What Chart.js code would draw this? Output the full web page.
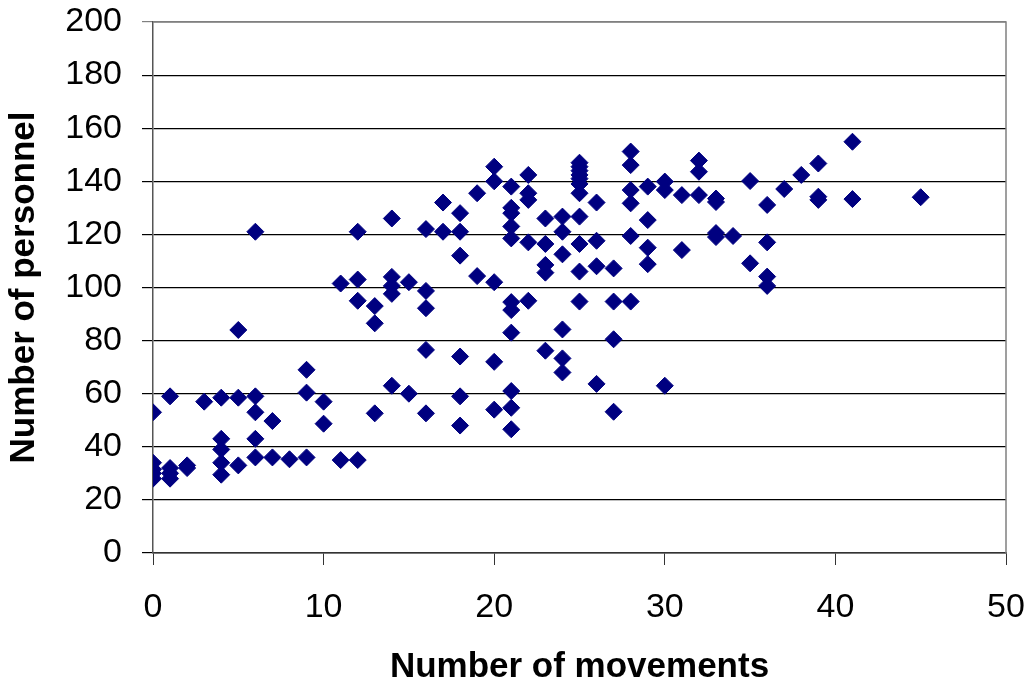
<!DOCTYPE html>
<html>
<head>
<meta charset="utf-8">
<script src="https://cdn.jsdelivr.net/npm/chart.js@4/dist/chart.umd.min.js"></script>
<style>
  html, body { margin: 0; padding: 0; background: #ffffff; }
  #wrap { width: 1031px; height: 686px; }
</style>
</head>
<body>
<div id="wrap"><canvas id="chart" width="1031" height="686"></canvas></div>
<script>
// Observations: number of movements (x) and number of personnel (y), one entry per point.
const movements = [
  0, 0, 0, 0, 0,
  1, 1, 1, 1,
  2, 2,
  3,
  4, 4, 4, 4, 4,
  5, 5, 5,
  6, 6, 6, 6, 6,
  7, 7,
  8,
  9, 9, 9,
  10, 10,
  11, 11,
  12, 12, 12, 12,
  13, 13, 13,
  14, 14, 14, 14, 14,
  15, 15,
  16, 16, 16, 16, 16,
  17, 17,
  18, 18, 18, 18, 18, 18,
  19, 19,
  20, 20, 20, 20, 20,
  21, 21, 21, 21, 21, 21, 21, 21, 21, 21, 21,
  22, 22, 22, 22, 22,
  23, 23, 23, 23, 23,
  24, 24, 24, 24, 24, 24,
  25, 25, 25, 25, 25, 25, 25, 25, 25, 25, 25,
  26, 26, 26, 26,
  27, 27, 27, 27,
  28, 28, 28, 28, 28, 28,
  29, 29, 29, 29,
  30, 30, 30,
  31, 31,
  32, 32, 32,
  33, 33, 33, 33,
  34,
  35, 35,
  36, 36, 36, 36,
  37,
  38,
  39, 39, 39,
  41, 41,
  45
];

const personnel = [
  53, 34, 31.5, 30, 28,
  59, 32, 30, 28,
  33, 32,
  57,
  58.5, 43, 39, 34, 29.5,
  84, 58.5, 33,
  121, 59, 53, 43, 36,
  49.7, 36,
  35.3,
  69, 60.4, 36,
  57, 48.7,
  101.5, 35,
  121, 103, 95, 35,
  93, 86.5, 52.6,
  126, 104, 100.6, 97.6, 63,
  102, 60,
  122, 98.7, 92.2, 76.5, 52.6,
  132, 121,
  128, 121, 112, 74, 59, 48,
  135.5, 104.3,
  145.5, 140, 102, 72, 54,
  138, 130, 128, 123, 118.5, 94.5, 91.5, 83, 61, 54.7, 46.6,
  142.4, 135.5, 133, 117, 95,
  126, 116.4, 108.5, 105.6, 76.2,
  126.7, 121, 112.5, 84.2, 73.3, 68,
  147, 145.5, 144, 142.4, 141, 139, 135.5, 126.7, 116.4, 106, 94.7,
  132, 117.6, 108, 63.7,
  107.2, 94.7, 80.5, 53.2,
  151.2, 146.1, 136.7, 131.7, 119.4, 94.7,
  138, 125.4, 115, 108.8,
  139.9, 136.7, 63,
  134.8, 114.1,
  147.8, 143.6, 134.8,
  133.5, 132.2, 120.5, 119,
  119.4,
  140.1, 109.1,
  131.1, 117, 104.1, 100.6,
  137.1,
  142.4,
  146.7, 134.2, 133,
  154.9, 133.3,
  134
];

// Axis ranges and tick steps
const xRange = { min: 0, max: 50, step: 10 };
const yRange = { min: 0, max: 200, step: 20 };

const xTitle = 'Number of movements';
const yTitle = 'Number of personnel';

const points = movements.map((m, i) => ({ x: m, y: personnel[i] }));

const FONT = "'Liberation Sans', Arial, sans-serif";

// Grey frame along the top and right of the plot area
const plotFrame = {
  id: 'plotFrame',
  afterDatasetsDraw(chart) {
    const { ctx, chartArea: a } = chart;
    ctx.save();
    ctx.strokeStyle = '#808080';
    ctx.lineWidth = 1.5;
    ctx.beginPath();
    ctx.moveTo(a.left, a.top);
    ctx.lineTo(a.right, a.top);
    ctx.lineTo(a.right, a.bottom);
    ctx.stroke();
    ctx.restore();
  }
};

// Fixed axis band sizes; edge-label overflow is covered by the layout padding
function fixBand(scale, size) {
  if (scale.isHorizontal()) scale.height = size; else scale.width = size;
  scale.paddingLeft = 0;
  scale.paddingRight = 0;
  scale.paddingTop = 0;
  scale.paddingBottom = 0;
}

new Chart(document.getElementById('chart'), {
  type: 'scatter',
  data: {
    datasets: [{
      data: points,
      pointStyle: 'rectRot',
      pointRadius: 8.5,
      pointHoverRadius: 8.5,
      backgroundColor: '#000080',
      borderColor: '#000080',
      borderWidth: 1
    }]
  },
  options: {
    responsive: false,
    animation: false,
    devicePixelRatio: 1,
    layout: { padding: { top: 22, right: 25, left: 0, bottom: 0 } },
    plugins: {
      legend: { display: false },
      tooltip: { enabled: false }
    },
    scales: {
      x: {
        type: 'linear',
        min: xRange.min,
        max: xRange.max,
        afterFit(scale) { fixBand(scale, 133); },
        ticks: {
          stepSize: xRange.step,
          color: '#000',
          padding: 26,
          font: { family: FONT, size: 34, lineHeight: 1 }
        },
        grid: {
          drawOnChartArea: false,
          drawTicks: true,
          tickLength: 12,
          color: '#333'
        },
        border: { display: true, color: '#333', width: 1.5 },
        title: {
          display: true,
          text: xTitle,
          color: '#000',
          padding: { top: 0, bottom: 1 },
          font: { family: FONT, size: 35, weight: 'bold', lineHeight: 1 }
        }
      },
      y: {
        type: 'linear',
        min: yRange.min,
        max: yRange.max,
        afterFit(scale) { fixBand(scale, 153); },
        ticks: {
          stepSize: yRange.step,
          color: '#000',
          padding: 20,
          font: { family: FONT, size: 34, lineHeight: 1 }
        },
        grid: {
          drawTicks: true,
          tickLength: 11,
          lineWidth: 1.2,
          color: (c) => (c.tick && c.tick.value === yRange.max ? '#808080' : '#000')
        },
        border: { display: true, color: '#555', width: 1.5 },
        title: {
          display: true,
          text: yTitle,
          color: '#000',
          padding: { top: 7, bottom: 0 },
          font: { family: FONT, size: 35, weight: 'bold', lineHeight: 1 }
        }
      }
    }
  },
  plugins: [plotFrame]
});
</script>
</body>
</html>
